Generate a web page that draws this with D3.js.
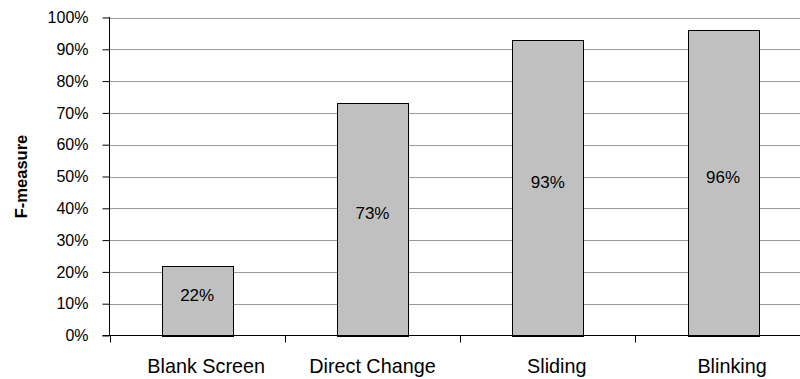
<!DOCTYPE html>
<html>
<head>
<meta charset="utf-8">
<script src="https://cdn.jsdelivr.net/npm/d3@7"></script>
<style>
  html, body { margin: 0; padding: 0; background: #fff; }
  svg { display: block; font-family: "Liberation Sans", Arial, sans-serif; }
</style>
</head>
<body>
<svg id="chart" width="800" height="379"></svg>
<script>
// Transition styles and their F-measure scores (fraction of 1)
const categories = ["Blank Screen", "Direct Change", "Sliding", "Blinking"];
const fMeasure = [0.22, 0.73, 0.93, 0.96];
const yTicks = [0, 0.1, 0.2, 0.3, 0.4, 0.5, 0.6, 0.7, 0.8, 0.9, 1.0];
const yTitle = "F-measure";

(function () {
  const svg = d3.select("#chart");
  const W = 800;
  const plotLeft = 109.5, plotBottom = 335.5, plotTop = 17.5;
  const step = 175.3;

  const x = d3.scaleBand()
    .domain(categories)
    .range([plotLeft, plotLeft + step * categories.length])
    .padding(0);

  const y = d3.scaleLinear().domain([0, 1]).range([plotBottom, plotTop]);

  const fmt = d3.format(".0%");

  // horizontal gridlines
  svg.append("g")
    .selectAll("line")
    .data(yTicks.filter(d => d > 0))
    .join("line")
    .attr("x1", plotLeft)
    .attr("x2", W)
    .attr("y1", d => Math.round(y(d)) + 0.5)
    .attr("y2", d => Math.round(y(d)) + 0.5)
    .attr("stroke", "#9a9a9a")
    .attr("stroke-width", 1);

  // bars
  const barW = x.bandwidth() * 0.405;
  svg.append("g")
    .selectAll("rect")
    .data(categories)
    .join("rect")
    .attr("x", d => Math.round(x(d) + (x.bandwidth() - barW) / 2) + 0.5)
    .attr("y", (d, i) => Math.round(y(fMeasure[i])) + 0.5)
    .attr("width", Math.round(barW))
    .attr("height", (d, i) => Math.round(plotBottom) - Math.round(y(fMeasure[i])))
    .attr("fill", "#c0c0c0")
    .attr("stroke", "#000")
    .attr("stroke-width", 1);

  // value labels, baseline at the bar's mid-height
  svg.append("g")
    .selectAll("text")
    .data(categories)
    .join("text")
    .attr("x", d => x(d) + x.bandwidth() / 2)
    .attr("y", (d, i) => (y(fMeasure[i]) + plotBottom) / 2)
    .attr("text-anchor", "middle")
    .attr("font-size", 17)
    .attr("fill", "#000")
    .text((d, i) => fmt(fMeasure[i]));

  // y axis
  const yAxis = d3.axisLeft(y)
    .tickValues(yTicks)
    .tickFormat(fmt)
    .tickSize(7)
    .tickPadding(14);
  const gy = svg.append("g")
    .attr("transform", `translate(${plotLeft},0)`)
    .call(yAxis);
  gy.select(".domain").attr("d", `M0,${plotTop - 0.5}V${plotBottom}`).attr("stroke", "#000");
  gy.selectAll(".tick line").attr("stroke", "#000");
  gy.selectAll(".tick text")
    .attr("font-size", 16)
    .attr("font-family", "Liberation Sans, Arial, sans-serif")
    .attr("fill", "#000");

  // x axis: ticks at band boundaries, labels in bands
  const gx = svg.append("g").attr("transform", `translate(0,${plotBottom})`);
  gx.append("line")
    .attr("x1", plotLeft - 7).attr("x2", W)
    .attr("y1", 0).attr("y2", 0)
    .attr("stroke", "#000");
  const bounds = categories.map(d => x(d)).concat([x.range()[1]]);
  gx.selectAll("line.tick")
    .data(bounds)
    .join("line")
    .attr("class", "tick")
    .attr("x1", d => Math.round(d) + 0.5)
    .attr("x2", d => Math.round(d) + 0.5)
    .attr("y1", 0).attr("y2", 7)
    .attr("stroke", "#000");
  // category labels sit slightly right of the band centre, except the two-word long one
  const labelShift = d => (d === "Direct Change" ? 0 : 9);
  gx.selectAll("text")
    .data(categories)
    .join("text")
    .attr("x", d => x(d) + x.bandwidth() / 2)
    .attr("dx", labelShift)
    .attr("y", 37.5)
    .attr("text-anchor", "middle")
    .attr("font-size", 19.8)
    .attr("fill", "#000")
    .text(d => d);

  // y axis title
  svg.append("text")
    .attr("transform", `translate(27,${(plotTop + plotBottom) / 2}) rotate(-90)`)
    .attr("text-anchor", "middle")
    .attr("font-size", 16.5)
    .attr("font-weight", "bold")
    .attr("fill", "#000")
    .text(yTitle);
})();
</script>
</body>
</html>
